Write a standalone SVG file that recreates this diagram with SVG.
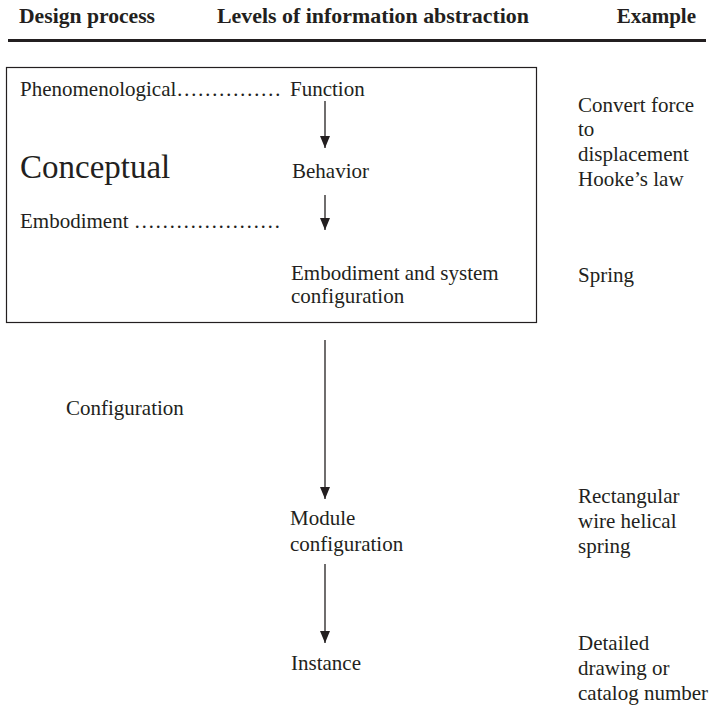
<svg xmlns="http://www.w3.org/2000/svg" width="712" height="707" viewBox="0 0 712 707">
  <style>
    .t { font-family: "Liberation Serif", "Times New Roman", serif; font-size: 21px; fill: #231f20; }
    .h { font-family: "Liberation Serif", "Times New Roman", serif; font-size: 21px; font-weight: bold; fill: #231f20; }
    .big { font-size: 33px; }
    .conn { stroke: #231f20; stroke-width: 1.3; fill: none; }
  </style>
  <defs>
    <!-- solid triangular head, drawn along +x so orient="auto" turns it with the line -->
    <marker id="arrow" viewBox="0 0 12 10" refX="12" refY="5" markerWidth="12" markerHeight="10" markerUnits="userSpaceOnUse" orient="auto">
      <path d="M0,0 L12,5 L0,10 Z" fill="#231f20"/>
    </marker>
  </defs>

  <!-- column headings -->
  <g id="header">
    <text class="h" x="19" y="23" textLength="136" lengthAdjust="spacingAndGlyphs">Design process</text>
    <text class="h" x="217" y="23" textLength="312" lengthAdjust="spacingAndGlyphs">Levels of information abstraction</text>
    <text class="h" x="696" y="23" text-anchor="end">Example</text>
    <rect x="8" y="39" width="698" height="3" fill="#231f20"/>
  </g>

  <!-- conceptual design frame -->
  <g id="conceptual-box">
    <rect x="6.5" y="67.5" width="530" height="255" fill="none" stroke="#231f20" stroke-width="1.2"/>
  </g>

  <!-- design process labels -->
  <g id="phenomenological">
    <text class="t" x="20" y="96">Phenomenological……………</text>
  </g>
  <g id="conceptual">
    <text class="t big" x="20" y="178">Conceptual</text>
  </g>
  <g id="embodiment">
    <text class="t" x="20" y="228">Embodiment …………………</text>
  </g>
  <g id="configuration">
    <text class="t" x="66" y="415">Configuration</text>
  </g>

  <!-- abstraction levels -->
  <g id="function">
    <text class="t" x="290" y="96">Function</text>
  </g>
  <g id="behavior">
    <text class="t" x="292" y="178">Behavior</text>
  </g>
  <g id="embodiment-config">
    <text class="t" x="291" y="280">Embodiment and system</text>
    <text class="t" x="291" y="303">configuration</text>
  </g>
  <g id="module-config">
    <text class="t" x="290" y="525">Module</text>
    <text class="t" x="290" y="551">configuration</text>
  </g>
  <g id="instance">
    <text class="t" x="291" y="670">Instance</text>
  </g>

  <!-- examples -->
  <g id="example-function">
    <text class="t" x="578" y="112">Convert force</text>
    <text class="t" x="578" y="136">to</text>
    <text class="t" x="578" y="161">displacement</text>
    <text class="t" x="578" y="186">Hooke’s law</text>
  </g>
  <g id="example-embodiment">
    <text class="t" x="578" y="282">Spring</text>
  </g>
  <g id="example-module">
    <text class="t" x="578" y="503">Rectangular</text>
    <text class="t" x="578" y="528">wire helical</text>
    <text class="t" x="578" y="553">spring</text>
  </g>
  <g id="example-instance">
    <text class="t" x="578" y="650">Detailed</text>
    <text class="t" x="578" y="675">drawing or</text>
    <text class="t" x="578" y="700">catalog number</text>
  </g>

  <!-- connectors -->
  <g id="connectors">
    <line class="conn" x1="325" y1="101" x2="325" y2="148" marker-end="url(#arrow)"/>
    <line class="conn" x1="325" y1="195" x2="325" y2="230" marker-end="url(#arrow)"/>
    <line class="conn" x1="325" y1="340" x2="325" y2="499" marker-end="url(#arrow)"/>
    <line class="conn" x1="325" y1="564" x2="325" y2="643" marker-end="url(#arrow)"/>
  </g>
</svg>
